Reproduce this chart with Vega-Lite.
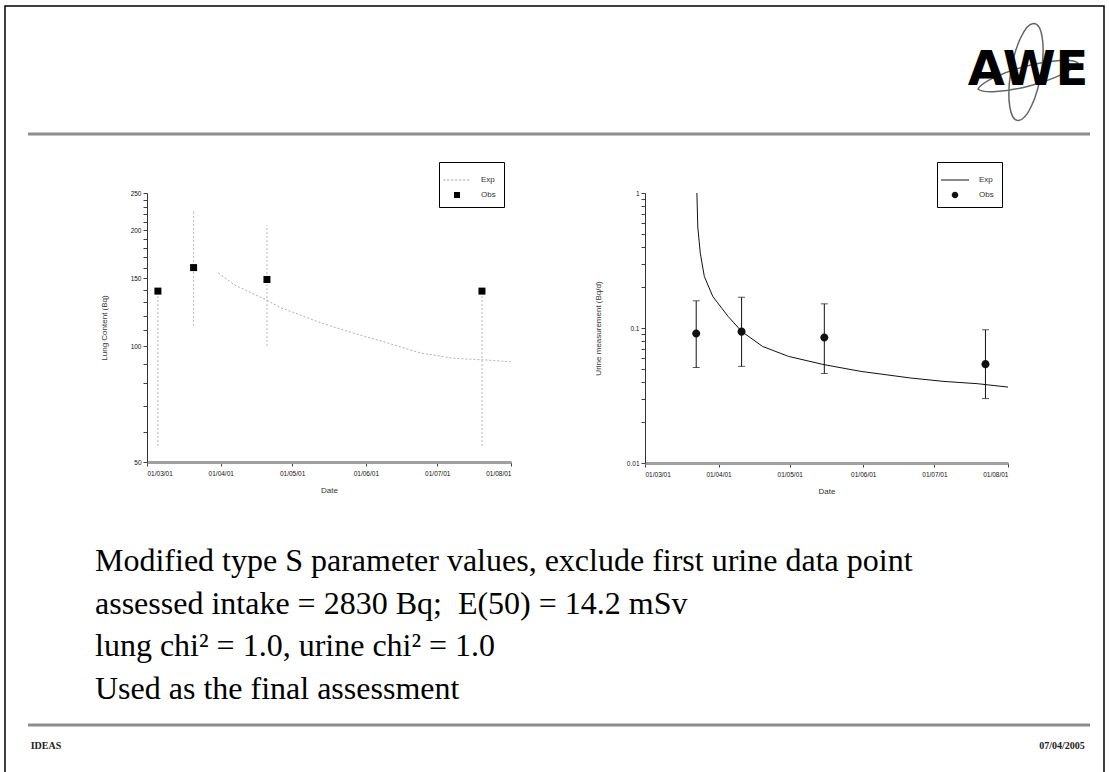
{
"$schema":"https://vega.github.io/schema/vega-lite/v6.json",
"width":1109,"height":772,"autosize":"none","padding":0,"background":"white",
"config":{"view":{"stroke":null},"font":"Liberation Sans","axis":{"grid":false}},
"datasets":{
 "lungObs":[
  {"date":"2001-03-05T14:00","value":139,"lo":55,"hi":139,"series":"Obs"},
  {"date":"2001-03-20T14:00","value":160,"lo":113,"hi":226,"series":"Obs"},
  {"date":"2001-04-20T10:00","value":149,"lo":100,"hi":206,"series":"Obs"},
  {"date":"2001-07-19T19:00","value":139,"lo":55,"hi":139,"series":"Obs"}],
 "lungExp":[
  {"date":"2001-03-31T00:00","value":155},
  {"date":"2001-04-07T00:00","value":144},
  {"date":"2001-04-20T00:00","value":132},
  {"date":"2001-04-26T00:00","value":126},
  {"date":"2001-05-13T00:00","value":115},
  {"date":"2001-05-27T00:00","value":108},
  {"date":"2001-06-10T00:00","value":102},
  {"date":"2001-06-24T00:00","value":96},
  {"date":"2001-07-08T00:00","value":93},
  {"date":"2001-07-22T00:00","value":92},
  {"date":"2001-08-01T00:00","value":91}],
 "urineObs":[
  {"date":"2001-03-22T14:00","value":0.091,"lo":0.051,"hi":0.159,"series":"Obs"},
  {"date":"2001-04-10T17:00","value":0.094,"lo":0.052,"hi":0.169,"series":"Obs"},
  {"date":"2001-05-15T14:00","value":0.085,"lo":0.046,"hi":0.151,"series":"Obs"},
  {"date":"2001-07-22T12:00","value":0.054,"lo":0.030,"hi":0.097,"series":"Obs"}],
 "urineExp":[
  {"date":"2001-03-22T21:00","value":1.0},
  {"date":"2001-03-23T06:00","value":0.56},
  {"date":"2001-03-24T07:00","value":0.36},
  {"date":"2001-03-26T00:00","value":0.241},
  {"date":"2001-03-29T14:00","value":0.171},
  {"date":"2001-04-05T00:00","value":0.122},
  {"date":"2001-04-10T17:00","value":0.0944},
  {"date":"2001-04-19T12:00","value":0.0731},
  {"date":"2001-04-30T12:00","value":0.0616},
  {"date":"2001-05-15T12:00","value":0.0535},
  {"date":"2001-05-31T00:00","value":0.0477},
  {"date":"2001-06-21T00:00","value":0.0426},
  {"date":"2001-07-05T00:00","value":0.0402},
  {"date":"2001-07-19T00:00","value":0.0387},
  {"date":"2001-08-01T00:00","value":0.0365}],
 "slideText":[
  {"line":1,"col":"L","text":"Modified type S parameter values, exclude first urine data point"},
  {"line":2,"col":"L","text":"assessed intake = 2830 Bq;\u00a0\u00a0E(50) = 14.2 mSv"},
  {"line":3,"col":"L","text":"lung chi² = 1.0, urine chi² = 1.0"},
  {"line":4,"col":"L","text":"Used as the final assessment"}],
 "footer":[{"pos":"L","text":"IDEAS"},{"pos":"R","text":"07/04/2005"}],
 "rules":[{"el":"head","a":"L","b":"R"},{"el":"foot","a":"L","b":"R"}],
 "frame":[{"a":"L","b":"R","t":"T","u":"B"}],
 "logo":[{"k":"c","text":"AWE"}],
 "orbits":[{"orb":"v"},{"orb":"t"}]
},
"layer":[
 {"data":{"name":"frame"},"mark":{"type":"rect","fill":null,"stroke":"black","strokeWidth":1.5},
  "encoding":{
   "x":{"field":"a","type":"nominal","scale":{"type":"point","domain":["L","R"],"range":[5,1104],"padding":0},"axis":null},
   "x2":{"field":"b"},
   "y":{"field":"t","type":"nominal","scale":{"type":"point","domain":["T","B"],"range":[6,790],"padding":0},"axis":null},
   "y2":{"field":"u"}}},
 {"data":{"name":"rules"},"mark":{"type":"rule","color":"#8c8c8c","strokeWidth":3},
  "encoding":{
   "x":{"field":"a","type":"nominal","scale":{"type":"point","domain":["L","R"],"range":[28,1090],"padding":0},"axis":null},
   "x2":{"field":"b"},
   "y":{"field":"el","type":"nominal","scale":{"type":"point","domain":["head","foot"],"range":[134,725],"padding":0},"axis":null}}},
 {"data":{"name":"orbits"},"mark":{"type":"point","filled":false,"stroke":"#666","strokeWidth":1.5,"size":10000,"opacity":1},
  "encoding":{
   "x":{"field":"orb","type":"nominal","scale":{"type":"point","domain":["v","t"],"range":[1026,1028],"padding":0},"axis":null},
   "y":{"field":"orb","type":"nominal","scale":{"type":"point","domain":["v","t"],"range":[72,76],"padding":0},"axis":null},
   "shape":{"field":"orb","type":"nominal","scale":{"domain":["v","t"],"range":["M0.15,-0.97A0.3,0.98 10 0 1 -0.15,0.97A0.3,0.98 10 0 1 0.15,-0.97Z","M-1.0,0.26A1.05,0.24 -15 0 1 1.0,-0.26A1.05,0.24 -15 0 1 -1.0,0.26Z"]},"legend":null}}},
 {"data":{"name":"logo"},"mark":{"type":"text","font":"DejaVu Sans","fontWeight":"bold","fontSize":48,"align":"center","baseline":"alphabetic","color":"black"},
  "encoding":{
   "x":{"field":"k","type":"nominal","scale":{"type":"point","domain":["c"],"range":[1028,1028]},"axis":null},
   "y":{"field":"k","type":"nominal","scale":{"type":"point","domain":["c"],"range":[85,85]},"axis":null},
   "text":{"field":"text"}}},
 {"layer":[
  {"data":{"name":"lungExp"},"mark":{"type":"line","color":"#b0b0b0","strokeWidth":1,"strokeDash":[2,2]},
   "encoding":{
    "x":{"field":"date","type":"temporal",
     "scale":{"domain":[{"year":2001,"month":3,"date":1},{"year":2001,"month":8,"date":1}],"range":[147,511],"nice":false},
     "axis":{"orient":"bottom","offset":-310,"values":[{"year":2001,"month":3,"date":1},{"year":2001,"month":4,"date":1},{"year":2001,"month":5,"date":1},{"year":2001,"month":6,"date":1},{"year":2001,"month":7,"date":1},{"year":2001,"month":8,"date":1}],
      "format":"%d/%m/%y","labelFontSize":6.5,"labelColor":"#111","tickSize":4,"tickColor":"#444","domainColor":"#a0a0a0","domainWidth":3,
      "title":"Date","titleFontSize":8,"titleFontWeight":"normal","titleColor":"#333","titlePadding":10,"labelPadding":4}},
    "y":{"field":"value","type":"quantitative","title":"Lung Content (Bq)",
     "scale":{"type":"log","domain":[50,250],"range":[462,193],"nice":false},
     "axis":{"orient":"left","offset":-147,"values":[50,60,70,80,90,100,110,120,130,140,150,160,170,180,190,200,210,220,230,240,250],
      "format":"d","labelExpr":"datum.value % 50 == 0 ? datum.label : ''","labelFontSize":6.5,"labelColor":"#111","tickSize":4,"tickColor":"#444","domainColor":"#333",
      "titleFontSize":8,"titleFontWeight":"normal","titleColor":"#333","titlePadding":22}}}},
  {"data":{"name":"lungObs"},"mark":{"type":"rule","color":"#b5b5b5","strokeWidth":1,"strokeDash":[2,2]},
   "encoding":{"x":{"field":"date","type":"temporal"},"y":{"field":"lo","type":"quantitative","title":"Lung Content (Bq)"},"y2":{"field":"hi"}}},
  {"data":{"name":"lungObs"},"mark":{"type":"point","filled":true,"size":544,"opacity":1},
   "encoding":{"x":{"field":"date","type":"temporal"},"y":{"field":"value","type":"quantitative","title":"Lung Content (Bq)"},
    "color":{"field":"series","type":"nominal","scale":{"domain":["Exp","Obs"],"range":["#a8a8a8","#000000"]},
     "legend":{"title":null,"orient":"none","legendX":439,"legendY":162,"strokeColor":"black","padding":8,"symbolSize":400,"labelFontSize":8,"labelColor":"#333","symbolStrokeWidth":0,"labelOffset":14,"rowPadding":1}},
    "shape":{"field":"series","type":"nominal","scale":{"domain":["Exp","Obs"],"range":["M-1.4,-0.06h0.24v0.12h-0.24Z M-1,-0.06h0.24v0.12h-0.24Z M-0.6,-0.06h0.24v0.12h-0.24Z M-0.2,-0.06h0.24v0.12h-0.24Z M0.2,-0.06h0.24v0.12h-0.24Z M0.6,-0.06h0.24v0.12h-0.24Z M1,-0.06h0.24v0.12h-0.24Z","M-0.3,-0.3H0.3V0.3H-0.3Z"]},
     "legend":{"title":null,"orient":"none","legendX":439,"legendY":162,"strokeColor":"black","padding":8,"symbolSize":400,"labelFontSize":8,"labelColor":"#333","symbolStrokeWidth":0,"labelOffset":14,"rowPadding":1}}}}
 ]},
 {"layer":[
  {"data":{"name":"urineExp"},"mark":{"type":"line","color":"#111","strokeWidth":1},
   "encoding":{
    "x":{"field":"date","type":"temporal",
     "scale":{"domain":[{"year":2001,"month":3,"date":1},{"year":2001,"month":8,"date":1}],"range":[645,1008],"nice":false},
     "axis":{"orient":"bottom","offset":-309,"values":[{"year":2001,"month":3,"date":1},{"year":2001,"month":4,"date":1},{"year":2001,"month":5,"date":1},{"year":2001,"month":6,"date":1},{"year":2001,"month":7,"date":1},{"year":2001,"month":8,"date":1}],
      "format":"%d/%m/%y","labelFontSize":6.5,"labelColor":"#111","tickSize":4,"tickColor":"#444","domainColor":"#a0a0a0","domainWidth":3,
      "title":"Date","titleFontSize":8,"titleFontWeight":"normal","titleColor":"#333","titlePadding":10,"labelPadding":4}},
    "y":{"field":"value","type":"quantitative","title":"Urine measurement (Bq/d)",
     "scale":{"type":"log","domain":[0.01,1],"range":[463,193],"nice":false},
     "axis":{"orient":"left","offset":-645,"values":[0.01,0.02,0.03,0.04,0.05,0.06,0.07,0.08,0.09,0.1,0.2,0.3,0.4,0.5,0.6,0.7,0.8,0.9,1],
      "format":"~g","labelExpr":"indexof([0.01,0.1,1], datum.value) >= 0 ? datum.label : ''","labelFontSize":6.5,"labelColor":"#111","tickSize":4,"tickColor":"#444","domainColor":"#333",
      "titleFontSize":8,"titleFontWeight":"normal","titleColor":"#333","titlePadding":24}}}},
  {"data":{"name":"urineObs"},"mark":{"type":"errorbar","ticks":true,"size":7,"color":"#111","thickness":1},
   "encoding":{"x":{"field":"date","type":"temporal"},"y":{"field":"lo","type":"quantitative","title":"Urine measurement (Bq/d)"},"y2":{"field":"hi"}}},
  {"data":{"name":"urineObs"},"mark":{"type":"point","filled":true,"size":590,"color":"#111","opacity":1},
   "encoding":{"x":{"field":"date","type":"temporal"},"y":{"field":"value","type":"quantitative","title":"Urine measurement (Bq/d)"},
    "shape":{"field":"series","type":"nominal","scale":{"domain":["Exp","Obs"],"range":["M-1.4,-0.05H1.4V0.05H-1.4Z","M0.33,0A0.33,0.33 0 1,1 -0.33,0A0.33,0.33 0 1,1 0.33,0Z"]},
     "legend":{"title":null,"orient":"none","legendX":937,"legendY":162,"strokeColor":"black","padding":8,"symbolSize":400,"symbolFillColor":"#111","labelFontSize":8,"labelColor":"#333","symbolStrokeWidth":0,"labelOffset":14,"rowPadding":1}}}}
 ]},
 {"data":{"name":"slideText"},"mark":{"type":"text","font":"Liberation Serif","fontSize":32,"align":"left","baseline":"alphabetic","color":"black"},
  "encoding":{
   "x":{"field":"col","type":"nominal","scale":{"type":"point","domain":["L"],"range":[95,95]},"axis":null},
   "y":{"field":"line","type":"ordinal","scale":{"type":"point","domain":[1,2,3,4],"range":[571,699],"padding":0},"axis":null},
   "text":{"field":"text"}}},
 {"data":{"name":"footer"},"mark":{"type":"text","font":"Liberation Serif","fontWeight":"bold","fontSize":10,"align":"center","baseline":"alphabetic","color":"#222"},
  "encoding":{
   "x":{"field":"pos","type":"nominal","scale":{"type":"point","domain":["L","R"],"range":[46,1062],"padding":0},"axis":null},
   "y":{"field":"pos","type":"nominal","scale":{"type":"point","domain":["L","R"],"range":[749,749],"padding":0},"axis":null},
   "text":{"field":"text"}}}
],
"resolve":{"scale":{"x":"independent","y":"independent","color":"independent","shape":"independent"},"axis":{"x":"independent","y":"independent"},"legend":{"color":"independent","shape":"independent"}}
}
